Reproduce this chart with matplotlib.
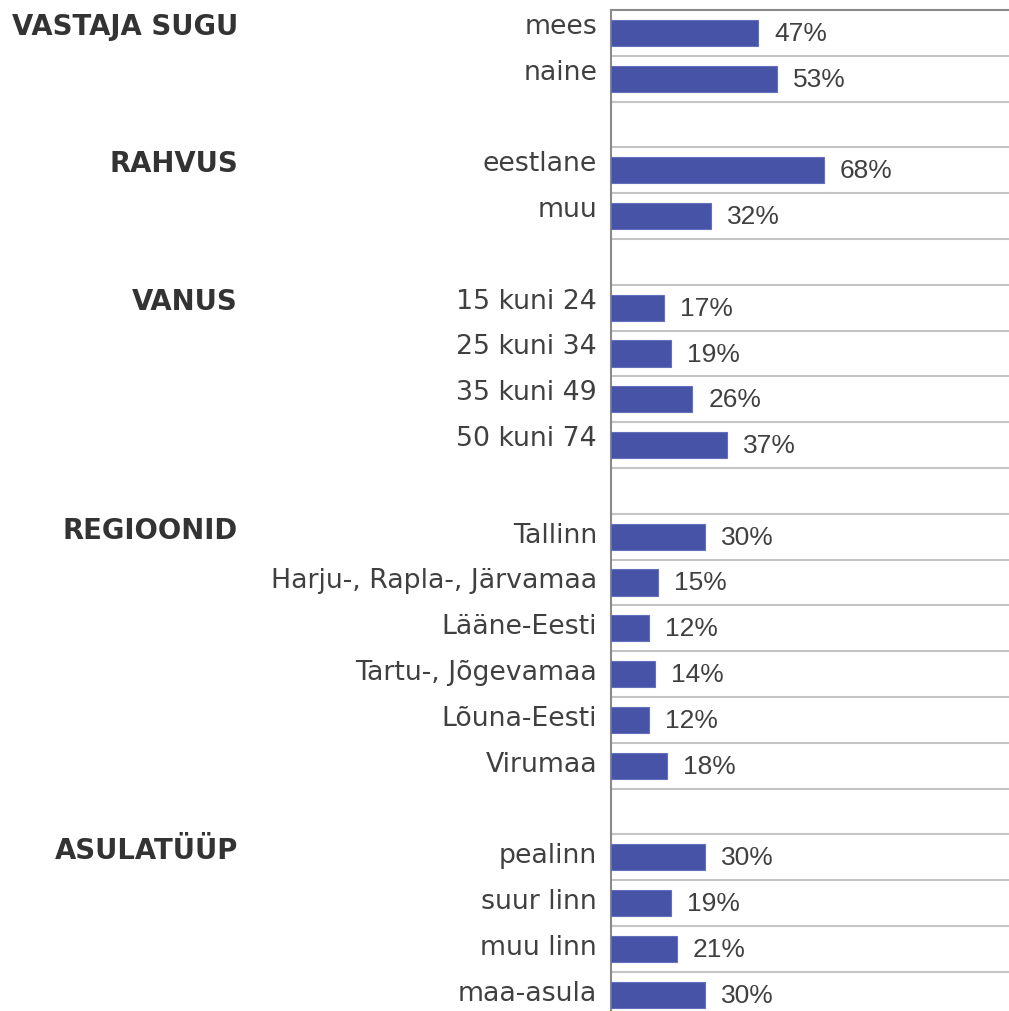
import matplotlib
matplotlib.use("Agg")
import matplotlib.pyplot as plt
import matplotlib.transforms as mtransforms

# andmed
group_titles = ["VASTAJA SUGU", "RAHVUS", "VANUS", "REGIOONID", "ASULATÜÜP"]
sugu = ["mees", "naine"]
sugu_pct = [47, 53]
rahvus = ["eestlane", "muu"]
rahvus_pct = [68, 32]
vanus = ["15 kuni 24", "25 kuni 34", "35 kuni 49", "50 kuni 74"]
vanus_pct = [17, 19, 26, 37]
regioonid = ["Tallinn", "Harju-, Rapla-, Järvamaa", "Lääne-Eesti",
             "Tartu-, Jõgevamaa", "Lõuna-Eesti", "Virumaa"]
regioonid_pct = [30, 15, 12, 14, 12, 18]
asula = ["pealinn", "suur linn", "muu linn", "maa-asula"]
asula_pct = [30, 19, 21, 30]

groups = [(sugu, sugu_pct), (rahvus, rahvus_pct), (vanus, vanus_pct),
          (regioonid, regioonid_pct), (asula, asula_pct)]

# sildi nihe pikslites (ülemised grupid veidi kõrgemal)
label_shift_px = [6, 6, 6, 1, 1]

# ridade paigutus (tühi rida gruppide vahel)
ypos, labels, values, shifts, first_rows = [], [], [], [], []
row = 0
for (items, pct), sh in zip(groups, label_shift_px):
    first_rows.append(row)
    for name, v in zip(items, pct):
        ypos.append(row)
        labels.append(name)
        values.append(v)
        shifts.append(sh)
        row += 1
    row += 1
n_rows = row - 1

W, H = 1009, 1011
fig = plt.figure(figsize=(W / 100, H / 100), dpi=100)
left = 611 / W
top = 1 - 10 / H
row_px = 45.8
height = n_rows * row_px / H
ax = fig.add_axes([left, top - height, 1 - left, height])

bar_color = "#4753a6"
text_color = "#404040"
px = 72 / 100  # pikslid punktideks

ax.barh(ypos, values, height=0.57, color=bar_color, edgecolor="#6470bb",
        linewidth=0.8, zorder=3)

for y, v in zip(ypos, values):
    ax.annotate(f"{v}%", (v, y), xytext=(16 * px, -1 * px),
                textcoords="offset points", ha="left", va="center",
                fontsize=19, family="Liberation Sans", color=text_color)

ax.set_xlim(0, 127)
ax.set_ylim(n_rows - 0.5, -0.5)

# ruudustik ridade vahel
for k in range(n_rows - 1):
    ax.axhline(k + 0.5, color="#c4c4c4", linewidth=1.5, zorder=1)

ax.set_yticks([])
ax.set_xticks([])

# kategooriate sildid
for y, name, sh in zip(ypos, labels, shifts):
    ax.annotate(name, (0, y), xycoords=("axes fraction", "data"),
                xytext=(-14 * px, sh * px), textcoords="offset points",
                ha="right", va="center", fontsize=19.3, family="DejaVu Sans",
                color=text_color)

for side in ["right", "bottom"]:
    ax.spines[side].set_visible(False)
ax.spines["left"].set_color("#8a8a8a")
ax.spines["left"].set_linewidth(1.5)
ax.spines["top"].set_color("#8a8a8a")
ax.spines["top"].set_linewidth(1.5)

# grupi pealkirjad
trans = mtransforms.blended_transform_factory(fig.transFigure, ax.transData)
for title, r in zip(group_titles, first_rows):
    ax.annotate(title, (238 / W, r), xycoords=trans,
                xytext=(0, 6 * px), textcoords="offset points",
                ha="right", va="center", fontsize=19.8, fontweight="bold",
                family="DejaVu Sans", color="#333333")

fig.savefig("out.png", dpi=100)
